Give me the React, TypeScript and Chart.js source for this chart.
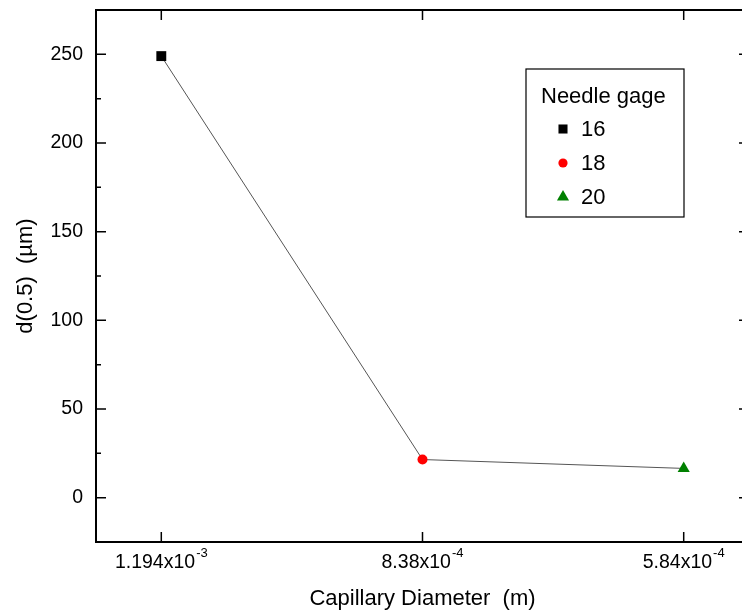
import React, { useEffect, useRef } from 'react';
import { Chart, registerables } from 'chart.js';
import { drawPoint } from 'chart.js/helpers';

Chart.register(...registerables);

// ---- data ----
const categories = ['1.194x10', '8.38x10', '5.84x10'];
const exponents = ['-3', '-4', '-4'];
const xPositions = [1, 2, 3];
const d50Values = [249, 21.5, 16.5];
const gauges = ['16', '18', '20'];
const markerColors = ['#000000', '#ff0000', '#008000'];
const markerStyles = ['rect', 'circle', 'triangle'];
const yTicks = [0, 50, 100, 150, 200, 250];
const yMinorTicks = [25, 75, 125, 175, 225];

const FONT = '"Liberation Sans", Arial, sans-serif';

const framePlugin = {
  id: 'frameAndTicks',
  afterDraw(chart: any) {
    const { ctx, chartArea } = chart;
    const { left, right, top, bottom } = chartArea;
    const xs = chart.scales.x;
    const ys = chart.scales.y;
    ctx.save();
    ctx.strokeStyle = '#000';
    ctx.lineWidth = 2;
    ctx.strokeRect(left, top, right - left, bottom - top);
    ctx.lineWidth = 1.5;
    ctx.beginPath();
    yTicks.forEach((v) => {
      const y = ys.getPixelForValue(v);
      ctx.moveTo(left, y); ctx.lineTo(left + 10, y);
      ctx.moveTo(right, y); ctx.lineTo(right - 10, y);
    });
    yMinorTicks.forEach((v) => {
      const y = ys.getPixelForValue(v);
      ctx.moveTo(left, y); ctx.lineTo(left + 5, y);
      ctx.moveTo(right, y); ctx.lineTo(right - 5, y);
    });
    xPositions.forEach((v) => {
      const x = xs.getPixelForValue(v);
      ctx.moveTo(x, bottom); ctx.lineTo(x, bottom - 10);
      ctx.moveTo(x, top); ctx.lineTo(x, top + 10);
    });
    ctx.stroke();

    // x tick labels with superscript exponents
    ctx.fillStyle = '#000';
    ctx.textBaseline = 'alphabetic';
    ctx.textAlign = 'left';
    xPositions.forEach((v, i) => {
      const x = xs.getPixelForValue(v);
      ctx.font = `19.5px ${FONT}`;
      const w1 = ctx.measureText(categories[i]).width;
      ctx.font = `13px ${FONT}`;
      const w2 = ctx.measureText(exponents[i]).width;
      const start = x - (w1 + w2 + 1) / 2;
      ctx.font = `19.5px ${FONT}`;
      ctx.fillText(categories[i], start, bottom + 26);
      ctx.font = `13px ${FONT}`;
      ctx.fillText(exponents[i], start + w1 + 1, bottom + 15);
    });

    // legend box
    const bx = left + 430;
    const by = top + 59;
    const bw = 158;
    const bh = 148;
    ctx.lineWidth = 1.2;
    ctx.strokeRect(bx, by, bw, bh);
    ctx.font = `22px ${FONT}`;
    ctx.fillText('Needle gage', bx + 15, by + 34);
    const ds = chart.data.datasets[0];
    const legendRadii = [6.4, 4.6, 7];
    gauges.forEach((g, i) => {
      const cy = by + 60 + i * 34;
      ctx.fillStyle = markerColors[i];
      ctx.strokeStyle = markerColors[i];
      drawPoint(ctx, { pointStyle: ds.pointStyle[i], radius: legendRadii[i], rotation: 0, borderWidth: 0 }, bx + 37, cy);
      ctx.fillStyle = '#000';
      ctx.fillText(g, bx + 55, cy + 7);
    });
    ctx.restore();
  },
};

export default function App() {
  const ref = useRef<HTMLCanvasElement>(null);
  useEffect(() => {
    if (!ref.current) return;
    const chart = new Chart(ref.current, {
      type: 'scatter',
      data: {
        datasets: [
          {
            label: 'd(0.5)',
            data: xPositions.map((x, i) => ({ x, y: d50Values[i] })),
            showLine: true,
            borderColor: '#555',
            borderWidth: 1,
            pointStyle: markerStyles as any,
            pointRadius: [7, 5, 7],
            pointBackgroundColor: markerColors,
            pointBorderColor: markerColors,
            pointBorderWidth: 0,
          },
        ],
      },
      options: {
        responsive: false,
        animation: false,
        devicePixelRatio: 1,
        layout: { padding: { left: 0, top: 10, right: 11, bottom: 0 } },
        plugins: { legend: { display: false }, tooltip: { enabled: false } },
        scales: {
          x: {
            type: 'linear',
            min: 0.75,
            max: 3.25,
            grid: { display: false },
            border: { display: false },
            ticks: { display: false },
            title: {
              display: true,
              text: 'Capillary Diameter  (m)',
              color: '#000',
              font: { family: FONT, size: 22 },
              padding: { top: 0, bottom: 2 },
            },
            afterFit: (s: any) => {
              s.height = 72;
              s.paddingLeft = 0;
              s.paddingRight = 0;
            },
          },
          y: {
            type: 'linear',
            min: -25,
            max: 275,
            grid: { display: false, drawTicks: false },
            border: { display: false },
            afterBuildTicks: (s: any) => {
              s.ticks = yTicks.map((v) => ({ value: v }));
            },
            ticks: {
              color: '#000',
              padding: 13,
              font: { family: FONT, size: 19.5 },
            },
            title: {
              display: true,
              text: 'd(0.5)  (\u00b5m)',
              color: '#000',
              font: { family: FONT, size: 22 },
              padding: { top: 13, bottom: 0 },
            },
            afterFit: (s: any) => {
              s.width = 96;
              s.paddingTop = 0;
              s.paddingBottom = 0;
            },
          },
        },
      },
      plugins: [framePlugin],
    });
    return () => chart.destroy();
  }, []);
  return (
    <div style={{ position: 'fixed', left: 0, top: 0, width: 760, height: 614, overflow: 'hidden', background: '#fff' }}>
      <canvas ref={ref} width={760} height={614} />
    </div>
  );
}
